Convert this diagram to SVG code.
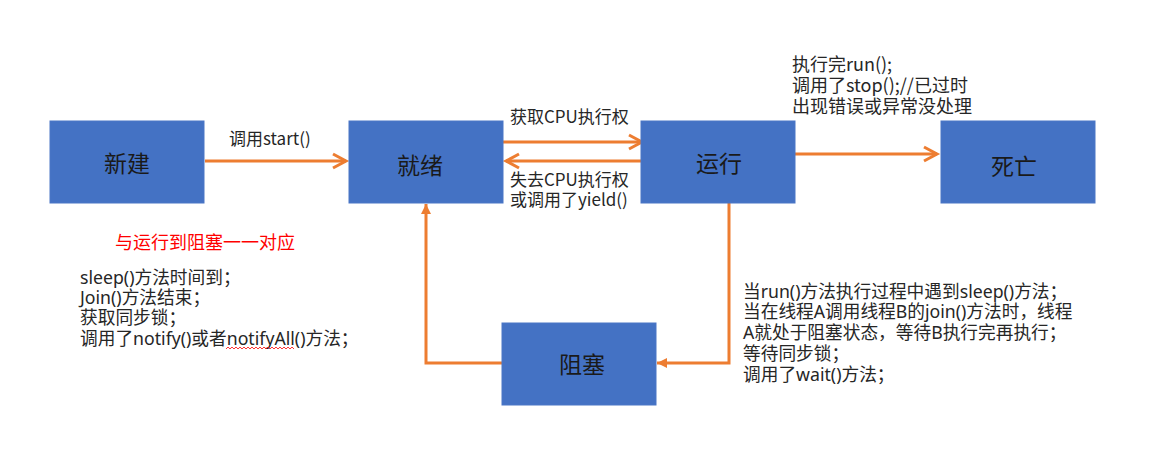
<svg xmlns="http://www.w3.org/2000/svg" width="1149" height="466" viewBox="0 0 1149 466">
  <style>
    .box { fill: #4472C4; stroke: #4A76C6; stroke-width: 1; }
    .title { font-family: "Noto Sans CJK SC", "Noto Sans", sans-serif; font-size: 23px; fill: #1a1a1a; text-anchor: middle; }
    .lbl { font-family: "Noto Sans CJK SC", "Noto Sans", sans-serif; font-size: 17px; fill: #262626; }
    .top { font-family: "Noto Sans CJK SC", "Noto Sans", sans-serif; font-size: 18px; fill: #262626; }
    .note { font-family: "Noto Sans", "Noto Sans CJK SC", sans-serif; font-size: 17.7px; fill: #262626; }
    .red { font-family: "Noto Sans CJK SC", "Noto Sans", sans-serif; font-size: 18px; fill: #FF0000; }
    .conn { fill: none; stroke: #ED7D31; stroke-width: 3; }
  </style>
  <defs>
    <marker id="open" markerUnits="userSpaceOnUse" markerWidth="20" markerHeight="20" refX="14" refY="8" orient="auto" viewBox="0 0 20 16">
      <path d="M1,1 L14,8 L1,15" fill="none" stroke="#ED7D31" stroke-width="3" stroke-linejoin="miter"/>
    </marker>
    <marker id="tri" markerUnits="userSpaceOnUse" markerWidth="12" markerHeight="12" refX="10" refY="6" orient="auto" viewBox="0 0 12 12">
      <path d="M0,1 L10,6 L0,11 Z" fill="#ED7D31"/>
    </marker>
  </defs>
  <rect width="1149" height="466" fill="#FFFFFF"/>

  <g id="connectors">
    <path class="conn" d="M205,161 H346" marker-end="url(#open)"/>
    <path class="conn" d="M503,142 H642" marker-end="url(#open)"/>
    <path class="conn" d="M641,161 H506" marker-end="url(#open)"/>
    <path class="conn" d="M795,154 H937" marker-end="url(#open)"/>
    <path class="conn" d="M729,203 V363 H657" marker-end="url(#tri)"/>
    <path class="conn" d="M502,363 H426 V204" marker-end="url(#tri)"/>
  </g>

  <g id="node-new">
    <rect class="box" x="50" y="121" width="154" height="82"/>
    <text class="title" x="127" y="172">新建</text>
  </g>
  <g id="node-ready">
    <rect class="box" x="349" y="121" width="154" height="82"/>
    <text class="title" x="420" y="174">就绪</text>
  </g>
  <g id="node-running">
    <rect class="box" x="641" y="121" width="154" height="82"/>
    <text class="title" x="719" y="172">运行</text>
  </g>
  <g id="node-dead">
    <rect class="box" x="941" y="121" width="154" height="82"/>
    <text class="title" x="1014" y="175">死亡</text>
  </g>
  <g id="node-blocked">
    <rect class="box" x="502" y="323" width="154" height="82"/>
    <text class="title" x="582" y="373">阻塞</text>
  </g>

  <g id="labels">
    <text class="lbl" x="229" y="145">调用start()</text>
    <text class="lbl" x="510" y="123">获取CPU执行权</text>
    <text class="lbl"><tspan x="510" y="186">失去CPU执行权</tspan><tspan x="510" y="206">或调用了yield()</tspan></text>
    <text class="top"><tspan x="792" y="71">执行完run();</tspan><tspan x="792" y="92">调用了stop();//已过时</tspan><tspan x="792" y="113">出现错误或异常没处理</tspan></text>
    <text class="red" x="115" y="249">与运行到阻塞一一对应</text>
    <text class="note"><tspan x="80" y="284">sleep()方法时间到；</tspan><tspan x="80" y="304">Join()方法结束；</tspan><tspan x="80" y="324">获取同步锁；</tspan><tspan x="80" y="345">调用了notify()或者notifyAll()方法；</tspan></text>
    <path d="M226,349 l2,-2 l2,2 l2,-2 l2,2 l2,-2 l2,2 l2,-2 l2,2 l2,-2 l2,2 l2,-2 l2,2 l2,-2 l2,2 l2,-2 l2,2 l2,-2 l2,2 l2,-2 l2,2 l2,-2 l2,2 l2,-2 l2,2 l2,-2 l2,2 l2,-2 l2,2 l2,-2 l2,2 l2,-2 l2,2 l2,-2 l2,2" fill="none" stroke="#FF0000" stroke-width="0.8"/>
    <text class="note"><tspan x="743" y="298">当run()方法执行过程中遇到sleep()方法；</tspan><tspan x="743" y="318">当在线程A调用线程B的join()方法时，线程</tspan><tspan x="743" y="339">A就处于阻塞状态，等待B执行完再执行；</tspan><tspan x="743" y="360">等待同步锁；</tspan><tspan x="743" y="381">调用了wait()方法；</tspan></text>
  </g>
</svg>
